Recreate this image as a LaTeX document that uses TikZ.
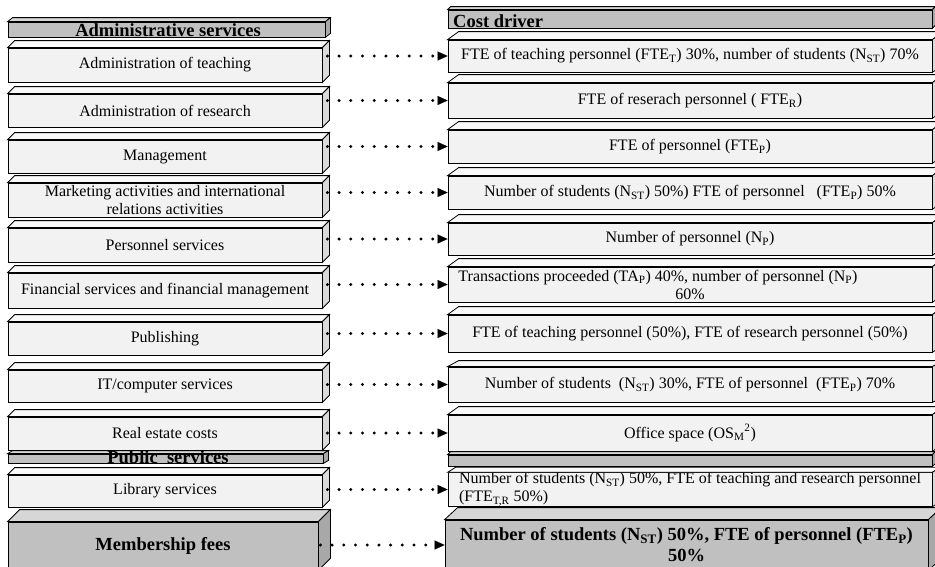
\documentclass[tikz,border=0pt]{standalone}
\usepackage{fontspec}
\setmainfont{Liberation Serif}
\usetikzlibrary{arrows.meta,calc,positioning}

\definecolor{frontgray}{HTML}{F2F2F2}
\definecolor{topgray}{HTML}{F9F9F9}
\definecolor{sidegray}{HTML}{DADADA}
\definecolor{headgray}{HTML}{C0C0C0}
\definecolor{headtop}{HTML}{D6D6D6}
\definecolor{headside}{HTML}{A8A8A8}

\tikzset{
  slab/.style={draw, line width=0.8pt, fill=frontgray, inner sep=0pt,
    font=\fontsize{16}{18}\selectfont, align=center},
  darkslab/.style={slab, fill=headgray, font=\fontsize{18.5}{21}\selectfont\bfseries},
  headtext/.style={inner sep=0pt, font=\fontsize{18.5}{20}\selectfont\bfseries},
  lighttop/.style={draw, line width=0.8pt, fill=topgray},
  lightside/.style={draw, line width=0.8pt, fill=sidegray},
  darktop/.style={draw, line width=0.8pt, fill=headtop},
  darkside/.style={draw, line width=0.8pt, fill=headside},
  dotarrow/.style={line width=3.3pt, line cap=round, dash pattern=on 0pt off 11.7pt,
    -{Triangle[length=10pt,width=9pt,line width=0.1pt]}},
}

% top and right faces of a box: node, dx, dy, top style, side style
\newcommand{\slabfaces}[5]{%
  \filldraw[#4] (#1.north west) -- ++(#2,-#3) -- ($(#1.north east)+(#2,-#3)$) -- (#1.north east) -- cycle;
  \filldraw[#5] (#1.north east) -- ++(#2,-#3) -- ($(#1.south east)+(#2,-#3)$) -- (#1.south east) -- cycle;
}

\begin{document}
\begin{tikzpicture}[x=1pt,y=-1pt]
\clip (0,0) rectangle (935,566);

% left column
\node[slab, fill=headgray, minimum width=317pt, minimum height=15pt] (adminhead) at (166.5,29.5) {};
\slabfaces{adminhead}{5}{4}{darktop}{darkside}
\node[headtext, anchor=base] (admintitle) at (168,36) {Administrative services};

\node[slab, minimum width=314pt, minimum height=34pt] (lteach) at (165,65) {Administration of teaching};
\slabfaces{lteach}{7}{7}{lighttop}{lightside}
\node[slab, minimum width=314pt, minimum height=33pt] (lresearch) at (165,110.5) {Administration of research};
\slabfaces{lresearch}{7}{7}{lighttop}{lightside}
\node[slab, minimum width=314pt, minimum height=33pt] (lmanage) at (165,156.5) {Management};
\slabfaces{lmanage}{7}{7}{lighttop}{lightside}
\node[slab, minimum width=314pt, minimum height=34pt] (lmarket) at (165,200) {Marketing activities and international\\relations activities};
\slabfaces{lmarket}{7}{7}{lighttop}{lightside}
\node[slab, minimum width=314pt, minimum height=34pt] (lperson) at (165,245) {Personnel services};
\slabfaces{lperson}{7}{7}{lighttop}{lightside}
\node[slab, minimum width=314pt, minimum height=35pt] (lfinance) at (165,290.5) {Financial services and financial management};
\slabfaces{lfinance}{7}{7}{lighttop}{lightside}
\node[slab, minimum width=314pt, minimum height=33pt] (lpublish) at (165,338.5) {Publishing};
\slabfaces{lpublish}{7}{7}{lighttop}{lightside}
\node[slab, minimum width=314pt, minimum height=32pt] (lit) at (165,386) {IT/computer services};
\slabfaces{lit}{7}{7}{lighttop}{lightside}

\node[slab, fill=headgray, minimum width=315pt, minimum height=9pt] (pubhead) at (165.5,458.5) {};
\slabfaces{pubhead}{5}{3}{darktop}{darkside}
\node[headtext, anchor=base] (pubtitle) at (168,463) {Public\ \ services};

\node[slab, minimum width=314pt, minimum height=33pt] (lestate) at (165,433.5) {Real estate costs};
\slabfaces{lestate}{7}{7}{lighttop}{lightside}
\node[slab, minimum width=314pt, minimum height=32pt] (llibrary) at (165,491) {Library services};
\slabfaces{llibrary}{7}{7}{lighttop}{lightside}
\node[darkslab, minimum width=310pt, minimum height=48pt] (lfees) at (163,546) {Membership fees};
\slabfaces{lfees}{12}{12}{darktop}{darkside}

% right column
\node[slab, fill=headgray, minimum width=484pt, minimum height=18pt] (costhead) at (690,19) {};
\slabfaces{costhead}{3}{3}{darktop}{darkside}
\node[headtext, anchor=base west] (costtitle) at (453,27) {Cost driver};

\node[slab, minimum width=484pt, minimum height=32pt] (rteach) at (690,56)
  {FTE of teaching personnel (FTE\textsubscript{T}) 30\%, number of students (N\textsubscript{ST}) 70\%};
\slabfaces{rteach}{11}{8}{lighttop}{lightside}
\node[slab, minimum width=484pt, minimum height=35pt] (rresearch) at (690,100.5)
  {FTE of reserach personnel ( FTE\textsubscript{R})};
\slabfaces{rresearch}{11}{8}{lighttop}{lightside}
\node[slab, minimum width=484pt, minimum height=33pt] (rmanage) at (690,146.5)
  {FTE of personnel (FTE\textsubscript{P})};
\slabfaces{rmanage}{11}{8}{lighttop}{lightside}
\node[slab, minimum width=484pt, minimum height=33pt] (rmarket) at (690,192.5)
  {Number of students (N\textsubscript{ST}) 50\%) FTE of personnel\ \ \ (FTE\textsubscript{P}) 50\%};
\slabfaces{rmarket}{11}{8}{lighttop}{lightside}
\node[slab, minimum width=484pt, minimum height=32pt] (rperson) at (690,239)
  {Number of personnel (N\textsubscript{P})};
\slabfaces{rperson}{11}{8}{lighttop}{lightside}
\node[slab, minimum width=484pt, minimum height=35pt] (rfinance) at (690,284.5)
  {Transactions proceeded (TA\textsubscript{P}) 40\%, number of personnel (N\textsubscript{P})\hspace*{64pt}\\60\%};
\slabfaces{rfinance}{11}{8}{lighttop}{lightside}
\node[slab, minimum width=484pt, minimum height=37pt] (rpublish) at (690,333.5)
  {FTE of teaching personnel (50\%), FTE of research personnel (50\%)};
\slabfaces{rpublish}{11}{8}{lighttop}{lightside}
\node[slab, minimum width=484pt, minimum height=35pt] (rit) at (690,384.5)
  {Number of students\ \ (N\textsubscript{ST}) 30\%, FTE of personnel\ \ (FTE\textsubscript{P}) 70\%};
\slabfaces{rit}{11}{6}{lighttop}{lightside}
\node[slab, minimum width=484pt, minimum height=36pt] (restate) at (690,433)
  {Office space (OS\textsubscript{M}\textsuperscript{2})};
\slabfaces{restate}{11}{8}{lighttop}{lightside}

\node[slab, fill=headgray, minimum width=484pt, minimum height=11pt] (rpubhead) at (690,460.5) {};
\slabfaces{rpubhead}{3}{3}{darktop}{darkside}

\node[slab, align=left, minimum width=484pt, minimum height=33pt] (rlibrary) at (690,489.5)
  {Number of students (N\textsubscript{ST}) 50\%, FTE of teaching and research personnel\\(FTE\textsubscript{T,R} 50\%)};
\slabfaces{rlibrary}{8}{5}{lighttop}{lightside}
\node[darkslab, minimum width=483pt, minimum height=50pt] (rfees) at (686.5,545)
  {Number of students (N\textsubscript{ST}) 50\%, FTE of personnel (FTE\textsubscript{P})\\50\%};
\slabfaces{rfees}{13}{12}{darktop}{darkside}

% dotted connectors
\draw[dotarrow] ([xshift=5pt]lteach.east |- rteach.west) -- (rteach.west);
\draw[dotarrow] ([xshift=5pt]lresearch.east |- rresearch.west) -- (rresearch.west);
\draw[dotarrow] ([xshift=5pt]lmanage.east |- rmanage.west) -- (rmanage.west);
\draw[dotarrow] ([xshift=5pt]lmarket.east |- rmarket.west) -- (rmarket.west);
\draw[dotarrow] ([xshift=5pt]lperson.east |- rperson.west) -- (rperson.west);
\draw[dotarrow] ([xshift=5pt]lfinance.east |- rfinance.west) -- (rfinance.west);
\draw[dotarrow] ([xshift=5pt]lpublish.east |- rpublish.west) -- (rpublish.west);
\draw[dotarrow] ([xshift=5pt]lit.east |- rit.west) -- (rit.west);
\draw[dotarrow] ([xshift=5pt]lestate.east |- restate.west) -- (restate.west);
\draw[dotarrow] ([xshift=5pt]llibrary.east |- rlibrary.west) -- (rlibrary.west);
\draw[dotarrow] ([xshift=2pt]lfees.east |- rfees.west) -- (rfees.west);
\end{tikzpicture}
\end{document}
